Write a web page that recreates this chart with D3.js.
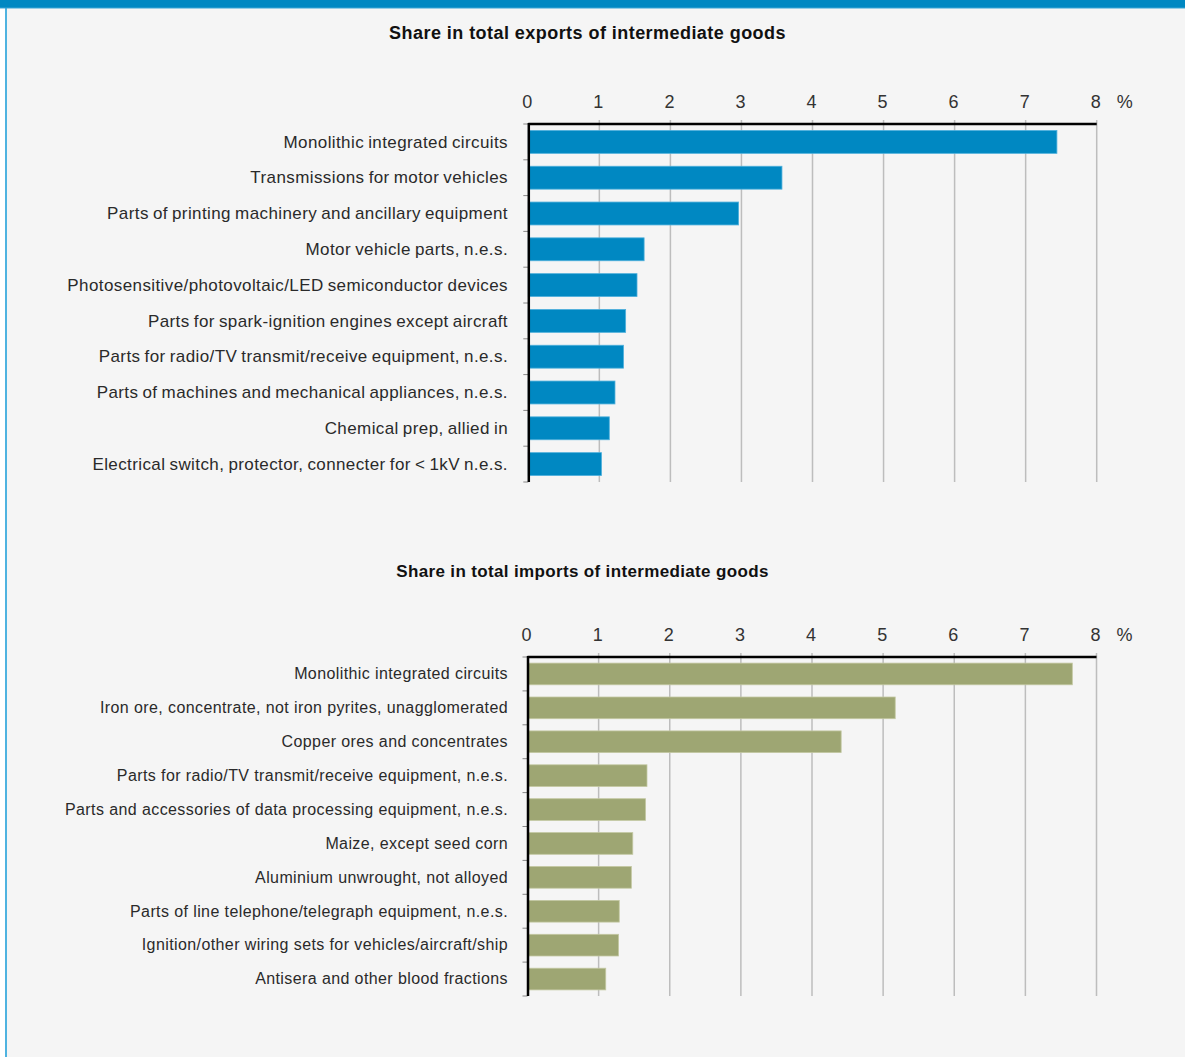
<!DOCTYPE html>
<html>
<head>
<meta charset="utf-8">
<script src="https://cdn.jsdelivr.net/npm/d3@7/dist/d3.min.js"></script>
<style>
  html, body { margin: 0; padding: 0; background: #ffffff; }
  svg { display: block; }
</style>
</head>
<body>
<svg id="chart" width="1185" height="1057"></svg>
<script>
// Export shares (% of total intermediate goods exports)
const exportCategories = [
  "Monolithic integrated circuits",
  "Transmissions for motor vehicles",
  "Parts of printing machinery and ancillary equipment",
  "Motor vehicle parts, n.e.s.",
  "Photosensitive/photovoltaic/LED semiconductor devices",
  "Parts for spark-ignition engines except aircraft",
  "Parts for radio/TV transmit/receive equipment, n.e.s.",
  "Parts of machines and mechanical appliances, n.e.s.",
  "Chemical prep, allied in",
  "Electrical switch, protector, connecter for < 1kV n.e.s."
];
const exportValues = [7.44, 3.57, 2.96, 1.63, 1.53, 1.37, 1.34, 1.22, 1.14, 1.03];

// Import shares (% of total intermediate goods imports)
const importCategories = [
  "Monolithic integrated circuits",
  "Iron ore, concentrate, not iron pyrites, unagglomerated",
  "Copper ores and concentrates",
  "Parts for radio/TV transmit/receive equipment, n.e.s.",
  "Parts and accessories of data processing equipment, n.e.s.",
  "Maize, except seed corn",
  "Aluminium unwrought, not alloyed",
  "Parts of line telephone/telegraph equipment, n.e.s.",
  "Ignition/other wiring sets for vehicles/aircraft/ship",
  "Antisera and other blood fractions"
];
const importValues = [7.66, 5.17, 4.41, 1.68, 1.66, 1.48, 1.46, 1.29, 1.28, 1.10];

const tickValues = [0, 1, 2, 3, 4, 5, 6, 7, 8];
const titles = ["Share in total exports of intermediate goods",
                "Share in total imports of intermediate goods"];
const unitLabel = "%";

const svg = d3.select("#chart");
const W = 1185, H = 1057;
const FONT = "'Liberation Sans', Arial, Helvetica, sans-serif";

// page frame
svg.append("rect").attr("x", 0).attr("y", 0).attr("width", W).attr("height", H).attr("fill", "#ffffff");
svg.append("rect").attr("x", 6).attr("y", 0).attr("width", W - 6).attr("height", H).attr("fill", "#f5f5f5");
svg.append("rect").attr("x", 5).attr("y", 0).attr("width", 2).attr("height", H).attr("fill", "#4fb3e0");
svg.append("rect").attr("x", 0).attr("y", 0).attr("width", W).attr("height", 8).attr("fill", "#0088c2");
svg.append("rect").attr("x", 0).attr("y", 7.5).attr("width", W).attr("height", 1).attr("fill", "#3aa6d6");

function drawPanel(opts) {
  const { categories, values, title, color, edge, x0, x1, yTop, yBottom, titleX, titleY,
          titleSize, titleSpacing, labelSize, labelWordSpacing } = opts;
  const g = svg.append("g");

  const x = d3.scaleLinear().domain([0, 8]).range([x0, x1]);
  const y = d3.scaleBand().domain(categories).range([yTop, yBottom]).paddingInner(0.36).paddingOuter(0.18);

  g.append("text")
    .attr("x", titleX).attr("y", titleY)
    .attr("text-anchor", "middle")
    .attr("font-family", FONT).attr("font-weight", "bold").attr("font-size", titleSize)
    .attr("letter-spacing", titleSpacing)
    .attr("fill", "#111")
    .text(title);

  // vertical gridlines
  g.append("g").selectAll("line").data(tickValues.slice(1)).join("line")
    .attr("x1", d => x(d)).attr("x2", d => x(d))
    .attr("y1", yTop - 4).attr("y2", yBottom)
    .attr("stroke", "#bdbdbd").attr("stroke-width", 1.5);

  // bars
  g.append("g").selectAll("rect").data(values).join("rect")
    .attr("x", x(0))
    .attr("y", (d, i) => y(categories[i]))
    .attr("width", d => x(d) - x(0))
    .attr("height", y.bandwidth())
    .attr("fill", color)
    .attr("stroke", edge).attr("stroke-width", 0.8);

  // top axis with tick labels
  const axis = d3.axisTop(x).tickValues(tickValues).tickSize(0).tickPadding(0).tickFormat(d3.format("d"));
  const ax = g.append("g").attr("transform", `translate(-1.5,${yTop - 16})`).call(axis);
  ax.select(".domain").remove();
  ax.selectAll("text")
    .attr("font-family", FONT).attr("font-size", 18).attr("fill", "#333")
    .attr("dy", 0);

  g.append("text")
    .attr("x", x1 + 20).attr("y", yTop - 16)
    .attr("font-family", FONT).attr("font-size", 18).attr("fill", "#333")
    .text(unitLabel);

  g.append("line")
    .attr("x1", x(0)).attr("x2", x(8))
    .attr("y1", yTop).attr("y2", yTop)
    .attr("stroke", "#000").attr("stroke-width", 2.5);

  // category axis with small ticks at band boundaries
  const bounds = d3.range(categories.length + 1).map(i => yTop + i * (yBottom - yTop) / categories.length);
  g.append("g").selectAll("line").data(bounds).join("line")
    .attr("x1", x(0) - 5).attr("x2", x(0))
    .attr("y1", d => d).attr("y2", d => d)
    .attr("stroke", "#888").attr("stroke-width", 1);

  g.append("line")
    .attr("x1", x(0) + 0.5).attr("x2", x(0) + 0.5)
    .attr("y1", yTop - 1).attr("y2", yBottom)
    .attr("stroke", "#000").attr("stroke-width", 2.5);

  g.append("g").selectAll("text").data(categories).join("text")
    .attr("x", 508)
    .attr("y", d => y(d) + y.bandwidth() / 2)
    .attr("dy", "0.33em")
    .attr("text-anchor", "end")
    .attr("font-family", FONT).attr("font-size", labelSize)
    .attr("letter-spacing", 0.4).attr("word-spacing", labelWordSpacing)
    .attr("fill", "#2a2a2a")
    .text(d => d);
}

drawPanel({
  categories: exportCategories, values: exportValues, title: titles[0],
  color: "#0088c2", edge: "#4fb0dc",
  x0: 528.3, x1: 1096.7, yTop: 124, yBottom: 482,
  titleX: 587.5, titleY: 39, titleSize: 18, titleSpacing: 0.45,
  labelSize: 17, labelWordSpacing: -1
});

drawPanel({
  categories: importCategories, values: importValues, title: titles[1],
  color: "#9ea673", edge: "#c3c8a2",
  x0: 527.5, x1: 1096.5, yTop: 657, yBottom: 996,
  titleX: 582.5, titleY: 577, titleSize: 17, titleSpacing: 0.35,
  labelSize: 16, labelWordSpacing: 0
});
</script>
</body>
</html>
